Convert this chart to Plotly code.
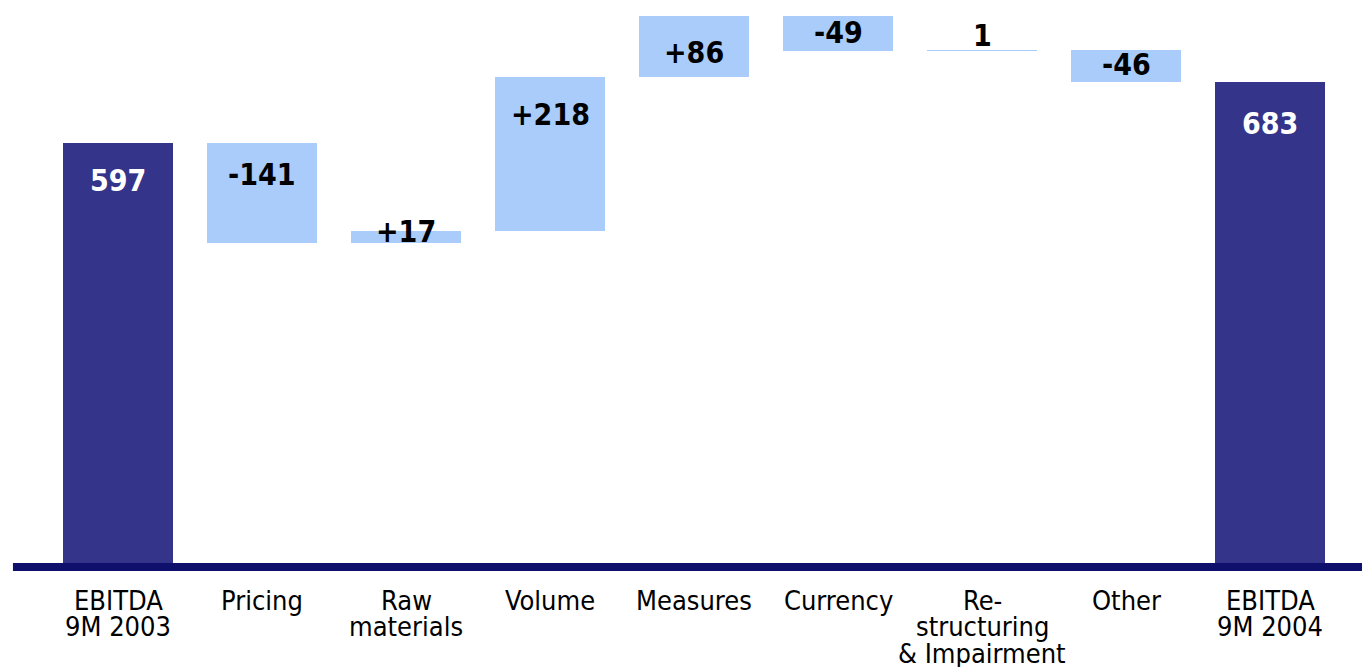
import numpy as np
import plotly.graph_objects as go

# ---- data ----
categories = ["EBITDA<br>9M 2003", "Pricing", "Raw<br>materials", "Volume", "Measures",
              "Currency", "Re-<br>structuring<br>& Impairment", "Other", "EBITDA<br>9M 2004"]
values = [597, -141, 17, 218, 86, -49, 1, -46, 683]
measures = ["total", "relative", "relative", "relative", "relative",
            "relative", "relative", "relative", "total"]
value_labels = ["597", "-141", "+17", "+218", "+86", "-49", "1", "-46", "683"]

# ---- styling ----
NAVY = "#33348A"
LIGHT = "#A9CCFA"
AXIS = "#0F0F6C"
FONT = "DejaVu Sans Condensed, Liberation Sans Narrow, sans-serif"
label_shift = [37, 31, 1, 38, 36, 16, -15, 14, 41]  # px below bar top

# compute bases / heights
bases, heights, tops = [], [], []
running = 0
for v, m in zip(values, measures):
    if m == "total":
        bases.append(0)
        heights.append(v)
        running = v
        tops.append(v)
    else:
        start, end = running, running + v
        bases.append(min(start, end))
        heights.append(abs(v))
        tops.append(max(start, end))
        running = end
colors = [NAVY if m == "total" else LIGHT for m in measures]

x = list(range(len(categories)))
fig = go.Figure()
fig.add_trace(go.Bar(x=x, y=heights, base=bases, marker=dict(color=colors, line=dict(width=0)),
                     width=0.765, hoverinfo="skip", showlegend=False))

annotations = []
for i, (t, lab, m) in enumerate(zip(tops, value_labels, measures)):
    annotations.append(dict(x=i, y=t, xref="x", yref="y", text=lab, showarrow=False,
                            yanchor="middle", yshift=-label_shift[i],
                            font=dict(family=FONT, size=30, weight="bold",
                                      color="white" if m == "total" else "black")))
for i, cat in enumerate(categories):
    for j, line in enumerate(cat.split("<br>")):
        annotations.append(dict(x=i, y=0, xref="x", yref="paper", text=line, showarrow=False,
                                yanchor="middle", yshift=-(36 + 26.5 * j),
                                font=dict(family=FONT, size=27, color="black")))

fig.update_layout(
    width=1362, height=667,
    margin=dict(l=46, r=20, t=0, b=103),
    paper_bgcolor="white", plot_bgcolor="white",
    xaxis=dict(range=[-0.5, 8.5], showticklabels=False, showgrid=False, zeroline=False,
               showline=False, ticks=""),
    yaxis=dict(range=[0, 800], visible=False, showgrid=False, zeroline=False),
    annotations=annotations,
    shapes=[dict(type="line", xref="paper", yref="paper", x0=-0.0255, x1=1.02,
                 y0=-0.0055, y1=-0.0055, line=dict(color=AXIS, width=8))],
    bargap=0,
)

fig.write_html("out.html")
